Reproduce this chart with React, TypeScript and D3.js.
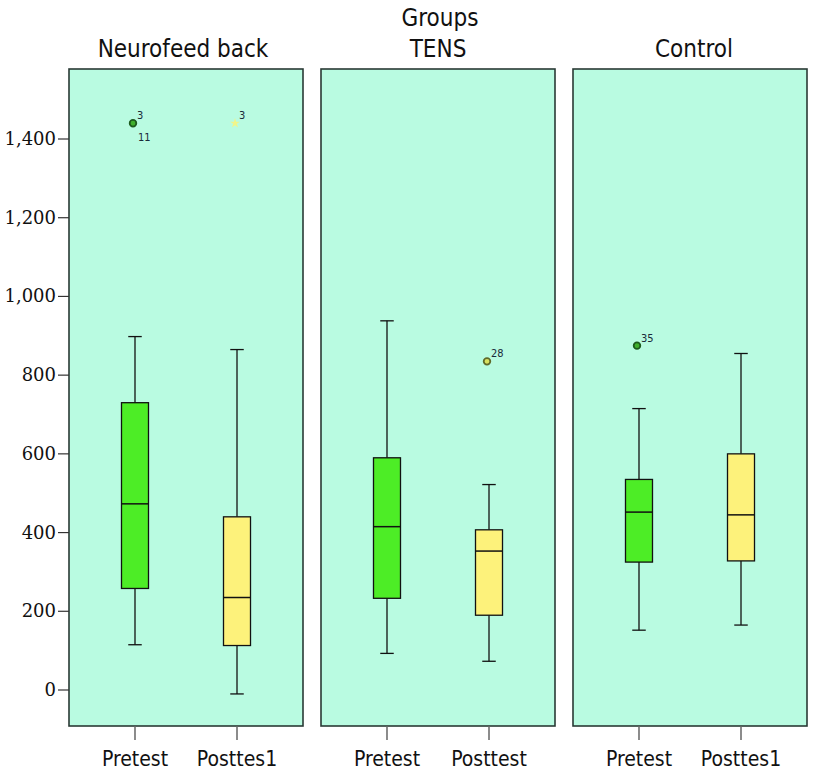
import React from "react";
import * as d3 from "d3";

const groups = ["Neurofeed back", "TENS", "Control"];
const tests = ["Pretest", "Posttest"];
const xLabels = [["Pretest", "Posttes1"], ["Pretest", "Posttest"], ["Pretest", "Posttes1"]];
// [min, q1, median, q3, max] per group per test
const pretestStats = [
  [115, 258, 473, 730, 898],
  [93, 233, 415, 590, 938],
  [152, 325, 452, 535, 715],
];
const posttestStats = [
  [-10, 113, 235, 440, 865],
  [73, 190, 353, 407, 522],
  [165, 328, 445, 600, 855],
];
const outlierGroup = [0, 0, 0, 1, 2];
const outlierTest = [0, 0, 1, 1, 0];
const outlierValue = [1440, 1438, 1440, 835, 875];
const outlierLabel = ["3", "11", "3", "28", "35"];
const yTicks = [0, 200, 400, 600, 800, 1000, 1200, 1400];

const W = 815, H = 780;
const panelLeft = [69, 321, 573];
const panelW = 234;
const top = 69, bottom = 726;
const titleFont = "'DejaVu Sans Condensed', 'Liberation Sans Narrow', 'DejaVu Sans'";

export default function App() {
  const y = d3.scaleLinear().domain([0, 1400]).range([690, 139]);
  const fmt = d3.format(",");
  const bg = "#b9fbe1";
  const green = "#4ded26";
  const yellow = "#fdf27b";
  const boxW = 27;
  const xIn = (g: number, t: number) => {
    const x = d3.scalePoint().domain(tests).range([panelLeft[g], panelLeft[g] + panelW]).padding(0.647);
    return x(tests[t]) as number;
  };
  return (
    <svg width={W} height={H} style={{ position: "absolute", left: 0, top: 0 }}>
      <rect width={W} height={H} fill="#fff" />
      <text x={440} y={26} textAnchor="middle" fontFamily={titleFont} fontSize={24} fill="#111">Groups</text>
      {groups.map((g, i) => (
        <text key={g} x={panelLeft[i] + panelW / 2 - (i === 2 ? -4 : 0) - (i === 0 ? 3 : 0)} y={57} textAnchor="middle" fontFamily={titleFont} fontSize={24} fill="#111">{g}</text>
      ))}
      {groups.map((g, gi) => (
        <g key={"p" + gi}>
          <rect x={panelLeft[gi]} y={top} width={panelW} height={bottom - top} fill={bg} stroke="#2a3a35" strokeWidth={1.6} />
          {[0, 1].map((t) => {
            const s = t === 0 ? pretestStats[gi] : posttestStats[gi];
            const cx = xIn(gi, t);
            return (
              <g key={t}>
                <line x1={cx} x2={cx} y1={y(s[4])} y2={y(s[3])} stroke="#111" strokeWidth={1.3} />
                <line x1={cx} x2={cx} y1={y(s[1])} y2={y(s[0])} stroke="#111" strokeWidth={1.3} />
                <line x1={cx - boxW / 4} x2={cx + boxW / 4} y1={y(s[4])} y2={y(s[4])} stroke="#111" strokeWidth={1.3} />
                <line x1={cx - boxW / 4} x2={cx + boxW / 4} y1={y(s[0])} y2={y(s[0])} stroke="#111" strokeWidth={1.3} />
                <rect x={cx - boxW / 2} y={y(s[3])} width={boxW} height={y(s[1]) - y(s[3])} fill={t === 0 ? green : yellow} stroke="#111" strokeWidth={1.3} />
                <line x1={cx - boxW / 2} x2={cx + boxW / 2} y1={y(s[2])} y2={y(s[2])} stroke="#111" strokeWidth={1.5} />
                <line x1={cx} x2={cx} y1={bottom} y2={bottom + 14} stroke="#666" strokeWidth={1.5} />
                <text x={cx} y={766} textAnchor="middle" fontFamily={titleFont} fontSize={21} fill="#111">{xLabels[gi][t]}</text>
              </g>
            );
          })}
        </g>
      ))}
      {outlierValue.map((v, i) => {
        const cx = xIn(outlierGroup[i], outlierTest[i]) - 2;
        const cy = y(v);
        const isFirst = outlierLabel[i] !== "11";
        return (
          <g key={"o" + i}>
            {isFirst && (outlierTest[i] === 0 || outlierGroup[i] === 1) && (
              <circle cx={cx} cy={cy} r={3.3} fill={outlierTest[i] === 0 ? "#3fae2c" : "#d8e060"} stroke={outlierTest[i] === 0 ? "#1d5a1d" : "#5f6a2a"} strokeWidth={1.8} />
            )}
            {isFirst && outlierTest[i] === 1 && outlierGroup[i] === 0 && (
              <path d={d3.symbol(d3.symbolStar, 30)() as string} transform={`translate(${cx},${cy})`} fill="#f0f58a" />
            )}
            <text x={cx + (isFirst ? 4 : 5)} y={isFirst ? cy - 4 : cy + 17} fontFamily="'DejaVu Sans Condensed', 'DejaVu Sans'" fontSize={11} fill="#1a2a3a">{outlierLabel[i]}</text>
          </g>
        );
      })}
      {yTicks.map((t) => (
        <g key={t}>
          <line x1={58} x2={69} y1={y(t)} y2={y(t)} stroke="#333" strokeWidth={1.2} />
          <text x={56} y={y(t) + 6} textAnchor="end" fontFamily="DejaVu Serif" fontSize={18} fill="#111">{fmt(t)}</text>
        </g>
      ))}
    </svg>
  );
}
